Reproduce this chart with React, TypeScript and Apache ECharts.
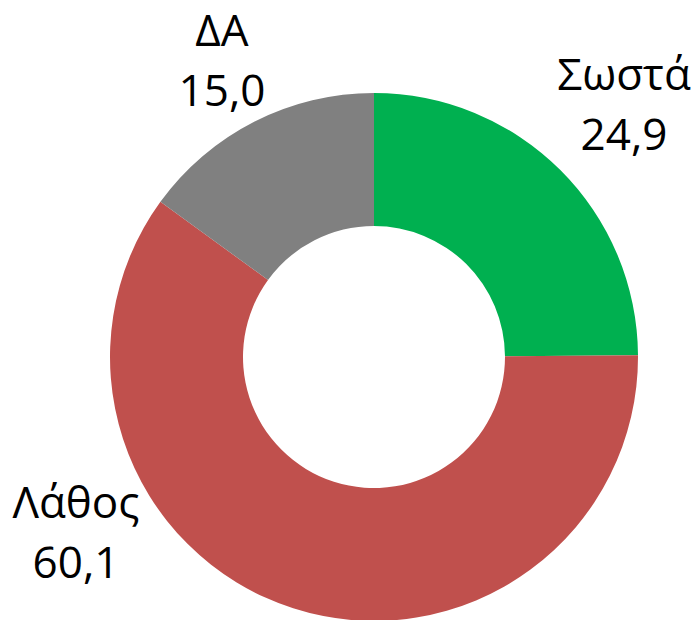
import React, { useEffect, useRef } from "react";
import * as echarts from "echarts";

const categories = ["Σωστά", "Λάθος", "ΔΑ"];
const values = [24.9, 60.1, 15.0];
const colors = ["#00B050", "#C0504D", "#808080"];
const labelPositions = [
  [624, 103],
  [76, 531],
  [222, 59],
];

export default function App() {
  const ref = useRef<HTMLDivElement>(null);
  useEffect(() => {
    if (!ref.current) return;
    const chart = echarts.init(ref.current, null, { renderer: "svg" });
    chart.setOption({
      animation: false,
      backgroundColor: "#ffffff",
      series: [
        {
          type: "pie",
          center: [374, 357],
          radius: [131, 264],
          startAngle: 90,
          clockwise: true,
          silent: true,
          emphasis: { disabled: true },
          data: categories.map((name, i) => ({
            name,
            value: values[i],
            itemStyle: { color: colors[i] },
          })),
          label: {
            show: true,
            formatter: (p: any) =>
              p.name + "\n" + Number(p.value).toFixed(1).replace(".", ","),
            fontFamily: "Open Sans",
            fontSize: 44,
            lineHeight: 60,
            color: "#000000",
            align: "center",
            overflow: "none",
            width: 300,
          },
          labelLine: { show: false },
          labelLayout: (params: any) => {
            const pos = labelPositions[params.dataIndex];
            return {
              x: pos[0],
              y: pos[1],
              align: "center",
              verticalAlign: "middle",
            };
          },
        },
      ],
    });
    return () => chart.dispose();
  }, []);
  return (
    <div
      ref={ref}
      style={{ position: "absolute", left: 0, top: 0, width: 699, height: 620 }}
    />
  );
}
